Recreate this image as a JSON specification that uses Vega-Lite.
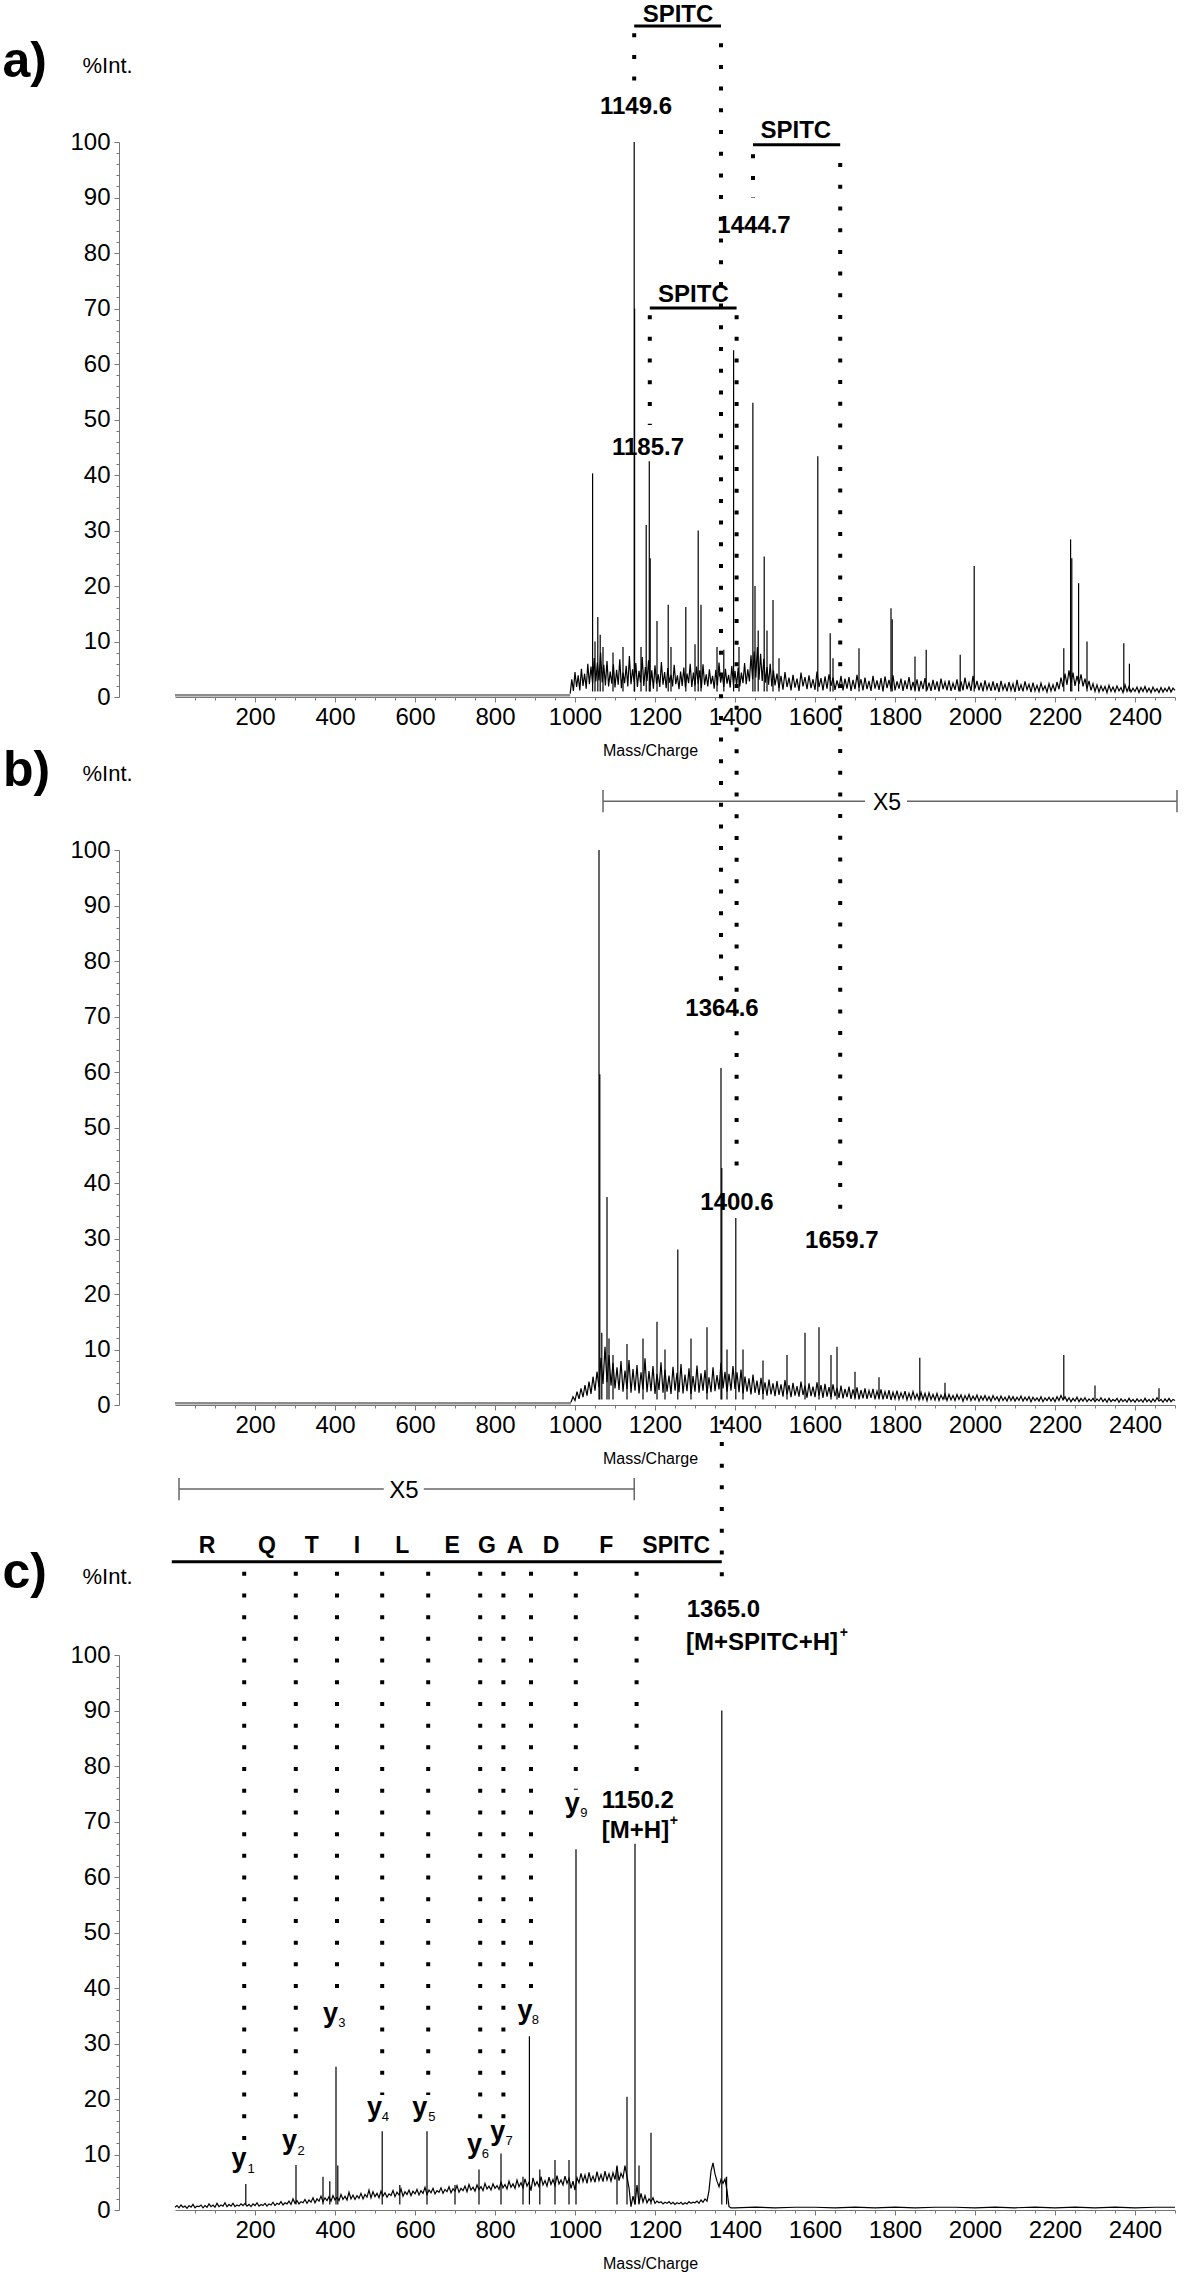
{
"$schema":"https://vega.github.io/schema/vega-lite/v6.json",
"width":1200,"height":2274,"autosize":{"type":"none"},"padding":0,
"config":{"view":{"stroke":null},"font":"Liberation Sans","text":{"font":"Liberation Sans"}},
"datasets":{
"a_flat":[{"m":0,"i":0.3},{"m":988,"i":0.3}],
"a_noise":[{"m":988,"i":0.6},{"m":992,"i":3.2},{"m":996,"i":1.1},{"m":1000,"i":4.5},{"m":1004,"i":1.8},{"m":1008,"i":3.9},{"m":1012,"i":1.2},{"m":1016,"i":5.1},{"m":1020,"i":2.0},{"m":1024,"i":4.2},{"m":1028,"i":1.5},{"m":1032,"i":6.0},{"m":1036,"i":2.3},{"m":1040,"i":5.5},{"m":1044,"i":2.4},{"m":1048,"i":7.0},{"m":1052,"i":2.8},{"m":1056,"i":6.2},{"m":1060,"i":3.0},{"m":1064,"i":8.0},{"m":1068,"i":2.6},{"m":1072,"i":5.8},{"m":1076,"i":2.1},{"m":1080,"i":6.5},{"m":1084,"i":1.9},{"m":1088,"i":4.6},{"m":1092,"i":2.4},{"m":1096,"i":5.9},{"m":1100,"i":1.7},{"m":1104,"i":4.9},{"m":1108,"i":2.2},{"m":1112,"i":6.8},{"m":1116,"i":1.6},{"m":1120,"i":4.4},{"m":1124,"i":2.5},{"m":1128,"i":5.6},{"m":1132,"i":1.9},{"m":1136,"i":7.4},{"m":1140,"i":2.3},{"m":1144,"i":5.0},{"m":1148,"i":2.7},{"m":1152,"i":6.1},{"m":1156,"i":1.8},{"m":1160,"i":4.7},{"m":1164,"i":2.6},{"m":1168,"i":7.2},{"m":1172,"i":2.0},{"m":1176,"i":5.4},{"m":1180,"i":2.9},{"m":1184,"i":6.6},{"m":1188,"i":2.1},{"m":1192,"i":4.8},{"m":1196,"i":1.5},{"m":1200,"i":5.7},{"m":1204,"i":2.4},{"m":1208,"i":4.1},{"m":1212,"i":1.8},{"m":1216,"i":6.3},{"m":1220,"i":2.2},{"m":1224,"i":4.5},{"m":1228,"i":1.6},{"m":1232,"i":5.2},{"m":1236,"i":2.6},{"m":1240,"i":4.0},{"m":1244,"i":1.9},{"m":1248,"i":5.8},{"m":1252,"i":2.3},{"m":1256,"i":3.9},{"m":1260,"i":1.4},{"m":1264,"i":4.6},{"m":1268,"i":2.0},{"m":1272,"i":5.3},{"m":1276,"i":1.7},{"m":1280,"i":4.2},{"m":1284,"i":2.5},{"m":1288,"i":6.0},{"m":1292,"i":1.8},{"m":1296,"i":4.4},{"m":1300,"i":2.1},{"m":1304,"i":5.5},{"m":1308,"i":2.4},{"m":1312,"i":4.8},{"m":1316,"i":1.6},{"m":1320,"i":5.9},{"m":1324,"i":2.2},{"m":1328,"i":4.1},{"m":1332,"i":1.9},{"m":1336,"i":5.0},{"m":1340,"i":2.3},{"m":1344,"i":3.8},{"m":1348,"i":1.5},{"m":1352,"i":4.9},{"m":1356,"i":2.1},{"m":1360,"i":6.2},{"m":1364,"i":2.6},{"m":1368,"i":4.3},{"m":1372,"i":1.8},{"m":1376,"i":5.1},{"m":1380,"i":2.4},{"m":1384,"i":4.0},{"m":1388,"i":1.7},{"m":1392,"i":5.6},{"m":1396,"i":2.2},{"m":1400,"i":4.7},{"m":1404,"i":2.0},{"m":1408,"i":5.3},{"m":1412,"i":1.9},{"m":1416,"i":4.4},{"m":1420,"i":2.5},{"m":1424,"i":6.1},{"m":1428,"i":2.3},{"m":1432,"i":5.0},{"m":1436,"i":2.8},{"m":1440,"i":7.5},{"m":1444,"i":3.2},{"m":1448,"i":8.2},{"m":1452,"i":3.5},{"m":1456,"i":9.0},{"m":1460,"i":3.1},{"m":1464,"i":7.8},{"m":1468,"i":2.9},{"m":1472,"i":6.9},{"m":1476,"i":2.6},{"m":1480,"i":5.4},{"m":1484,"i":2.2},{"m":1488,"i":6.0},{"m":1492,"i":1.9},{"m":1496,"i":4.8},{"m":1500,"i":2.1},{"m":1505,"i":4.2},{"m":1510,"i":1.6},{"m":1515,"i":3.8},{"m":1520,"i":1.3},{"m":1525,"i":4.5},{"m":1530,"i":1.8},{"m":1535,"i":3.5},{"m":1540,"i":1.2},{"m":1545,"i":4.0},{"m":1550,"i":1.7},{"m":1555,"i":3.3},{"m":1560,"i":1.1},{"m":1565,"i":4.4},{"m":1570,"i":1.9},{"m":1575,"i":3.6},{"m":1580,"i":1.4},{"m":1585,"i":3.9},{"m":1590,"i":1.6},{"m":1595,"i":3.2},{"m":1600,"i":1.3},{"m":1605,"i":4.6},{"m":1610,"i":1.8},{"m":1615,"i":3.4},{"m":1620,"i":1.2},{"m":1625,"i":3.7},{"m":1630,"i":1.5},{"m":1635,"i":4.1},{"m":1640,"i":2.0},{"m":1645,"i":3.5},{"m":1650,"i":1.3},{"m":1655,"i":3.0},{"m":1660,"i":1.6},{"m":1665,"i":3.8},{"m":1670,"i":1.2},{"m":1675,"i":3.3},{"m":1680,"i":1.5},{"m":1685,"i":3.6},{"m":1690,"i":1.1},{"m":1695,"i":3.1},{"m":1700,"i":1.4},{"m":1705,"i":4.0},{"m":1710,"i":1.7},{"m":1715,"i":3.2},{"m":1720,"i":1.2},{"m":1725,"i":3.5},{"m":1730,"i":1.4},{"m":1735,"i":2.9},{"m":1740,"i":1.1},{"m":1745,"i":3.8},{"m":1750,"i":1.5},{"m":1755,"i":3.0},{"m":1760,"i":1.3},{"m":1765,"i":3.4},{"m":1770,"i":1.0},{"m":1775,"i":3.7},{"m":1780,"i":1.6},{"m":1785,"i":3.1},{"m":1790,"i":1.4},{"m":1795,"i":3.9},{"m":1800,"i":1.2},{"m":1805,"i":2.8},{"m":1810,"i":1.5},{"m":1815,"i":3.3},{"m":1820,"i":1.1},{"m":1825,"i":3.0},{"m":1830,"i":1.4},{"m":1835,"i":3.6},{"m":1840,"i":1.2},{"m":1845,"i":2.7},{"m":1850,"i":1.3},{"m":1855,"i":3.2},{"m":1860,"i":1.0},{"m":1865,"i":2.9},{"m":1870,"i":1.4},{"m":1875,"i":3.4},{"m":1880,"i":1.2},{"m":1885,"i":2.6},{"m":1890,"i":1.1},{"m":1895,"i":3.1},{"m":1900,"i":1.3},{"m":1905,"i":2.8},{"m":1910,"i":1.0},{"m":1915,"i":3.3},{"m":1920,"i":1.4},{"m":1925,"i":2.7},{"m":1930,"i":1.2},{"m":1935,"i":3.0},{"m":1940,"i":1.1},{"m":1945,"i":2.5},{"m":1950,"i":1.3},{"m":1955,"i":3.2},{"m":1960,"i":1.0},{"m":1965,"i":2.8},{"m":1970,"i":1.2},{"m":1975,"i":3.5},{"m":1980,"i":1.4},{"m":1985,"i":2.6},{"m":1990,"i":1.1},{"m":1995,"i":3.8},{"m":2000,"i":1.5},{"m":2005,"i":2.9},{"m":2010,"i":1.2},{"m":2015,"i":2.6},{"m":2020,"i":1.0},{"m":2025,"i":3.0},{"m":2030,"i":1.3},{"m":2035,"i":2.4},{"m":2040,"i":1.1},{"m":2045,"i":2.8},{"m":2050,"i":1.2},{"m":2055,"i":2.5},{"m":2060,"i":0.9},{"m":2065,"i":2.9},{"m":2070,"i":1.3},{"m":2075,"i":2.3},{"m":2080,"i":1.0},{"m":2085,"i":2.7},{"m":2090,"i":1.2},{"m":2095,"i":2.4},{"m":2100,"i":0.9},{"m":2105,"i":3.1},{"m":2110,"i":1.1},{"m":2115,"i":2.2},{"m":2120,"i":1.0},{"m":2125,"i":2.8},{"m":2130,"i":1.3},{"m":2135,"i":2.3},{"m":2140,"i":0.9},{"m":2145,"i":2.6},{"m":2150,"i":1.1},{"m":2155,"i":2.1},{"m":2160,"i":1.0},{"m":2165,"i":2.5},{"m":2170,"i":1.2},{"m":2175,"i":2.0},{"m":2180,"i":0.9},{"m":2185,"i":2.4},{"m":2190,"i":1.1},{"m":2195,"i":2.2},{"m":2200,"i":1.0},{"m":2205,"i":2.7},{"m":2210,"i":1.4},{"m":2215,"i":3.5},{"m":2220,"i":1.8},{"m":2225,"i":4.2},{"m":2230,"i":2.2},{"m":2235,"i":4.8},{"m":2240,"i":2.5},{"m":2245,"i":4.4},{"m":2250,"i":2.0},{"m":2255,"i":3.8},{"m":2260,"i":2.3},{"m":2265,"i":4.1},{"m":2270,"i":1.9},{"m":2275,"i":3.3},{"m":2280,"i":1.5},{"m":2285,"i":2.9},{"m":2290,"i":1.2},{"m":2295,"i":2.4},{"m":2300,"i":1.0},{"m":2305,"i":2.2},{"m":2310,"i":0.9},{"m":2315,"i":2.0},{"m":2320,"i":1.1},{"m":2325,"i":1.9},{"m":2330,"i":0.8},{"m":2335,"i":2.1},{"m":2340,"i":1.0},{"m":2345,"i":1.8},{"m":2350,"i":0.9},{"m":2355,"i":2.0},{"m":2360,"i":1.1},{"m":2365,"i":1.7},{"m":2370,"i":0.8},{"m":2375,"i":2.2},{"m":2380,"i":1.0},{"m":2385,"i":1.9},{"m":2390,"i":0.9},{"m":2395,"i":1.6},{"m":2400,"i":1.0},{"m":2405,"i":1.8},{"m":2410,"i":0.8},{"m":2415,"i":1.7},{"m":2420,"i":1.0},{"m":2425,"i":1.9},{"m":2430,"i":0.9},{"m":2435,"i":1.6},{"m":2440,"i":0.8},{"m":2445,"i":1.8},{"m":2450,"i":1.0},{"m":2455,"i":1.5},{"m":2460,"i":0.8},{"m":2465,"i":1.7},{"m":2470,"i":0.9},{"m":2475,"i":1.6},{"m":2480,"i":1.0},{"m":2485,"i":1.8},{"m":2490,"i":0.9},{"m":2495,"i":1.6},{"m":2500,"i":1.2}],
"a_pk":[{"m":1044,"i":40.3},{"m":1050,"i":10},{"m":1057,"i":14.4},{"m":1063,"i":11.2},{"m":1070,"i":9},{"m":1095,"i":8},{"m":1120,"i":9},{"m":1148,"i":100},{"m":1149,"i":70},{"m":1165,"i":9},{"m":1178,"i":31},{"m":1185.7,"i":42.5},{"m":1188,"i":25},{"m":1205,"i":13.7},{"m":1233,"i":16.6},{"m":1240,"i":9},{"m":1277,"i":16.2},{"m":1300,"i":9.5},{"m":1308,"i":30},{"m":1315,"i":16.6},{"m":1355,"i":9},{"m":1372,"i":8.5},{"m":1396.5,"i":62.5},{"m":1410,"i":9},{"m":1444.7,"i":53},{"m":1450,"i":20},{"m":1458,"i":12},{"m":1473,"i":25.3},{"m":1480,"i":12},{"m":1495,"i":17.5},{"m":1510,"i":7},{"m":1607,"i":43.4},{"m":1638,"i":11.5},{"m":1645,"i":7},{"m":1710,"i":8.8},{"m":1790,"i":16},{"m":1793,"i":14},{"m":1850,"i":7.3},{"m":1878,"i":8.5},{"m":1963,"i":7.6},{"m":1998,"i":23.6},{"m":2222,"i":8.8},{"m":2239,"i":28.4},{"m":2242,"i":25},{"m":2259,"i":20.5},{"m":2280,"i":10},{"m":2372,"i":9.7},{"m":2386,"i":6}],
"a_dot":[{"m":1148,"i":119.6,"i2":110.5},{"m":1365,"i":117.8,"i2":-52.5},{"m":1445,"i":97.8,"i2":89.9},{"m":1663,"i":96.2,"i2":-95},{"m":1187,"i":68.8,"i2":49},{"m":1404,"i":68.8,"i2":-87.6}],
"a_bar":[{"m":1148,"m2":1365,"i":120.9},{"m":1445,"m2":1663,"i":99.5},{"m":1187,"m2":1404,"i":70.1}],
"a_lab":[{"m":1257.5,"i":121.6,"t":"SPITC"},{"m":1152.5,"i":105,"t":"1149.6"},{"m":1552,"i":100.7,"t":"SPITC"},{"m":1447.5,"i":83.6,"t":"1444.7"},{"m":1296,"i":71.2,"t":"SPITC"},{"m":1182.5,"i":43.6,"t":"1185.7"}],
"a_panel":[{"m":-320,"i":111.7,"t":"a)"}],
"b_flat":[{"m":0,"i":0.3},{"m":990,"i":0.3}],
"b_noise":[{"m":990,"i":0.5},{"m":995,"i":1.5},{"m":1000,"i":0.8},{"m":1005,"i":2.4},{"m":1010,"i":1.1},{"m":1015,"i":3.0},{"m":1020,"i":1.4},{"m":1025,"i":3.6},{"m":1030,"i":1.7},{"m":1035,"i":4.2},{"m":1040,"i":2.0},{"m":1045,"i":5.1},{"m":1050,"i":2.6},{"m":1055,"i":6.0},{"m":1060,"i":3.2},{"m":1065,"i":8.5},{"m":1070,"i":3.8},{"m":1075,"i":10.5},{"m":1080,"i":4.1},{"m":1085,"i":9.0},{"m":1090,"i":3.5},{"m":1095,"i":7.6},{"m":1100,"i":3.0},{"m":1105,"i":6.8},{"m":1110,"i":2.7},{"m":1115,"i":7.9},{"m":1120,"i":2.4},{"m":1125,"i":6.2},{"m":1130,"i":2.9},{"m":1135,"i":8.1},{"m":1140,"i":2.2},{"m":1145,"i":6.5},{"m":1150,"i":2.6},{"m":1155,"i":7.2},{"m":1160,"i":2.1},{"m":1165,"i":5.9},{"m":1170,"i":2.8},{"m":1175,"i":8.4},{"m":1180,"i":2.3},{"m":1185,"i":6.1},{"m":1190,"i":2.5},{"m":1195,"i":7.0},{"m":1200,"i":2.0},{"m":1205,"i":5.6},{"m":1210,"i":2.7},{"m":1215,"i":7.7},{"m":1220,"i":2.2},{"m":1225,"i":6.4},{"m":1230,"i":2.4},{"m":1235,"i":5.3},{"m":1240,"i":2.0},{"m":1245,"i":6.9},{"m":1250,"i":2.6},{"m":1255,"i":5.8},{"m":1260,"i":2.3},{"m":1265,"i":7.4},{"m":1270,"i":2.1},{"m":1275,"i":5.5},{"m":1280,"i":2.5},{"m":1285,"i":6.6},{"m":1290,"i":2.0},{"m":1295,"i":5.2},{"m":1300,"i":2.4},{"m":1305,"i":7.1},{"m":1310,"i":2.2},{"m":1315,"i":5.7},{"m":1320,"i":2.6},{"m":1325,"i":6.3},{"m":1330,"i":2.1},{"m":1335,"i":5.0},{"m":1340,"i":2.3},{"m":1345,"i":6.8},{"m":1350,"i":2.5},{"m":1355,"i":5.4},{"m":1360,"i":2.8},{"m":1365,"i":7.6},{"m":1370,"i":3.0},{"m":1375,"i":6.0},{"m":1380,"i":2.4},{"m":1385,"i":5.6},{"m":1390,"i":2.6},{"m":1395,"i":7.0},{"m":1400,"i":2.9},{"m":1405,"i":5.9},{"m":1410,"i":2.3},{"m":1415,"i":6.4},{"m":1420,"i":2.1},{"m":1425,"i":5.1},{"m":1430,"i":2.4},{"m":1435,"i":4.8},{"m":1440,"i":1.9},{"m":1445,"i":5.5},{"m":1450,"i":2.2},{"m":1455,"i":4.4},{"m":1460,"i":1.8},{"m":1465,"i":4.9},{"m":1470,"i":2.0},{"m":1475,"i":4.1},{"m":1480,"i":1.7},{"m":1485,"i":4.6},{"m":1490,"i":1.9},{"m":1495,"i":3.9},{"m":1500,"i":1.6},{"m":1505,"i":4.3},{"m":1510,"i":1.8},{"m":1515,"i":3.7},{"m":1520,"i":1.5},{"m":1525,"i":4.5},{"m":1530,"i":1.9},{"m":1535,"i":3.6},{"m":1540,"i":1.4},{"m":1545,"i":4.0},{"m":1550,"i":1.7},{"m":1555,"i":3.4},{"m":1560,"i":1.5},{"m":1565,"i":4.2},{"m":1570,"i":1.8},{"m":1575,"i":3.5},{"m":1580,"i":1.3},{"m":1585,"i":3.9},{"m":1590,"i":1.6},{"m":1595,"i":3.3},{"m":1600,"i":1.4},{"m":1605,"i":4.1},{"m":1610,"i":1.7},{"m":1615,"i":3.6},{"m":1620,"i":1.3},{"m":1625,"i":3.8},{"m":1630,"i":1.5},{"m":1635,"i":3.2},{"m":1640,"i":1.4},{"m":1645,"i":3.7},{"m":1650,"i":1.6},{"m":1655,"i":3.1},{"m":1660,"i":1.3},{"m":1665,"i":3.5},{"m":1670,"i":1.2},{"m":1675,"i":2.9},{"m":1680,"i":1.4},{"m":1685,"i":3.3},{"m":1690,"i":1.1},{"m":1695,"i":2.8},{"m":1700,"i":1.3},{"m":1705,"i":3.2},{"m":1710,"i":1.0},{"m":1715,"i":2.7},{"m":1720,"i":1.2},{"m":1725,"i":3.0},{"m":1730,"i":1.1},{"m":1735,"i":2.6},{"m":1740,"i":1.3},{"m":1745,"i":2.9},{"m":1750,"i":1.0},{"m":1755,"i":2.5},{"m":1760,"i":1.2},{"m":1765,"i":2.8},{"m":1770,"i":1.0},{"m":1775,"i":2.4},{"m":1780,"i":1.1},{"m":1785,"i":2.7},{"m":1790,"i":0.9},{"m":1795,"i":2.3},{"m":1800,"i":1.1},{"m":1805,"i":2.6},{"m":1810,"i":1.0},{"m":1815,"i":2.2},{"m":1820,"i":1.2},{"m":1825,"i":2.5},{"m":1830,"i":0.9},{"m":1835,"i":2.1},{"m":1840,"i":1.0},{"m":1845,"i":2.4},{"m":1850,"i":1.1},{"m":1855,"i":2.0},{"m":1860,"i":0.9},{"m":1865,"i":2.3},{"m":1870,"i":1.0},{"m":1875,"i":2.1},{"m":1880,"i":0.8},{"m":1885,"i":2.2},{"m":1890,"i":1.0},{"m":1895,"i":1.9},{"m":1900,"i":0.9},{"m":1905,"i":2.1},{"m":1910,"i":0.8},{"m":1915,"i":1.8},{"m":1920,"i":1.0},{"m":1925,"i":2.0},{"m":1930,"i":0.8},{"m":1935,"i":1.9},{"m":1940,"i":0.9},{"m":1945,"i":1.7},{"m":1950,"i":0.8},{"m":1955,"i":1.9},{"m":1960,"i":1.0},{"m":1965,"i":1.8},{"m":1970,"i":0.7},{"m":1975,"i":1.7},{"m":1980,"i":0.9},{"m":1985,"i":1.9},{"m":1990,"i":0.8},{"m":1995,"i":1.6},{"m":2000,"i":0.9},{"m":2005,"i":1.8},{"m":2010,"i":0.7},{"m":2015,"i":1.6},{"m":2020,"i":0.9},{"m":2025,"i":1.7},{"m":2030,"i":0.8},{"m":2035,"i":1.5},{"m":2040,"i":0.7},{"m":2045,"i":1.7},{"m":2050,"i":0.9},{"m":2055,"i":1.5},{"m":2060,"i":0.7},{"m":2065,"i":1.6},{"m":2070,"i":0.8},{"m":2075,"i":1.4},{"m":2080,"i":0.7},{"m":2085,"i":1.6},{"m":2090,"i":0.8},{"m":2095,"i":1.5},{"m":2100,"i":0.7},{"m":2105,"i":1.4},{"m":2110,"i":0.8},{"m":2115,"i":1.6},{"m":2120,"i":0.7},{"m":2125,"i":1.4},{"m":2130,"i":0.8},{"m":2135,"i":1.5},{"m":2140,"i":0.6},{"m":2145,"i":1.4},{"m":2150,"i":0.8},{"m":2155,"i":1.3},{"m":2160,"i":0.7},{"m":2165,"i":1.5},{"m":2170,"i":0.6},{"m":2175,"i":1.3},{"m":2180,"i":0.8},{"m":2185,"i":1.4},{"m":2190,"i":0.7},{"m":2195,"i":1.3},{"m":2200,"i":0.6},{"m":2205,"i":1.5},{"m":2210,"i":0.8},{"m":2215,"i":1.7},{"m":2220,"i":0.9},{"m":2225,"i":1.5},{"m":2230,"i":0.7},{"m":2235,"i":1.3},{"m":2240,"i":0.6},{"m":2245,"i":1.2},{"m":2250,"i":0.7},{"m":2255,"i":1.4},{"m":2260,"i":0.6},{"m":2265,"i":1.2},{"m":2270,"i":0.7},{"m":2275,"i":1.3},{"m":2280,"i":0.6},{"m":2285,"i":1.1},{"m":2290,"i":0.7},{"m":2295,"i":1.2},{"m":2300,"i":0.6},{"m":2305,"i":1.1},{"m":2310,"i":0.7},{"m":2315,"i":1.3},{"m":2320,"i":0.6},{"m":2325,"i":1.1},{"m":2330,"i":0.5},{"m":2335,"i":1.2},{"m":2340,"i":0.6},{"m":2345,"i":1.0},{"m":2350,"i":0.7},{"m":2355,"i":1.2},{"m":2360,"i":0.5},{"m":2365,"i":1.1},{"m":2370,"i":0.6},{"m":2375,"i":1.0},{"m":2380,"i":0.5},{"m":2385,"i":1.2},{"m":2390,"i":0.6},{"m":2395,"i":1.0},{"m":2400,"i":0.5},{"m":2405,"i":1.1},{"m":2410,"i":0.6},{"m":2415,"i":1.0},{"m":2420,"i":0.5},{"m":2425,"i":1.2},{"m":2430,"i":0.6},{"m":2435,"i":1.0},{"m":2440,"i":0.5},{"m":2445,"i":1.1},{"m":2450,"i":0.6},{"m":2455,"i":1.3},{"m":2460,"i":0.7},{"m":2465,"i":1.0},{"m":2470,"i":0.5},{"m":2475,"i":1.1},{"m":2480,"i":0.6},{"m":2485,"i":1.2},{"m":2490,"i":0.6},{"m":2495,"i":1.0},{"m":2500,"i":0.8}],
"b_pk":[{"m":1060,"i":100},{"m":1062,"i":59.6},{"m":1067,"i":13},{"m":1080,"i":37.5},{"m":1085,"i":12},{"m":1095,"i":9},{"m":1130,"i":11},{"m":1170,"i":12},{"m":1205,"i":15},{"m":1225,"i":10},{"m":1257,"i":28},{"m":1290,"i":12},{"m":1330,"i":14},{"m":1365,"i":60.7},{"m":1367,"i":42.7},{"m":1380,"i":10},{"m":1402,"i":33.7},{"m":1420,"i":10},{"m":1470,"i":8},{"m":1530,"i":9},{"m":1575,"i":13},{"m":1610,"i":14},{"m":1640,"i":9},{"m":1655,"i":10.5},{"m":1700,"i":6},{"m":1760,"i":5},{"m":1862,"i":8.5},{"m":1925,"i":4},{"m":2222,"i":9},{"m":2300,"i":3.5},{"m":2460,"i":3}],
"b_lab":[{"m":1367.5,"i":70.1,"t":"1364.6"},{"m":1405,"i":35.1,"t":"1400.6"},{"m":1667,"i":28.3,"t":"1659.7"}],
"b_panel":[{"m":-312,"i":111.5,"t":"b)"}],
"b_x5":[{"m":1780,"i":107.2,"t":"X5"}],
"b_thin":[{"m":1070,"m2":1725,"i":108.8,"i2":108.8},{"m":1830,"m2":2505,"i":108.8,"i2":108.8},{"m":1070,"m2":1070,"i":110.8,"i2":106.8},{"m":2505,"m2":2505,"i":110.8,"i2":106.8}],
"c_noise":[{"m":0,"i":0.5},{"m":5,"i":0.8},{"m":10,"i":0.4},{"m":15,"i":0.9},{"m":20,"i":0.5},{"m":25,"i":0.7},{"m":30,"i":0.3},{"m":35,"i":0.8},{"m":40,"i":0.5},{"m":45,"i":1.0},{"m":50,"i":0.4},{"m":55,"i":0.7},{"m":60,"i":0.6},{"m":65,"i":0.9},{"m":70,"i":0.4},{"m":75,"i":0.8},{"m":80,"i":0.5},{"m":85,"i":1.1},{"m":90,"i":0.6},{"m":95,"i":0.9},{"m":100,"i":0.5},{"m":105,"i":1.2},{"m":110,"i":0.6},{"m":115,"i":0.9},{"m":120,"i":0.7},{"m":125,"i":1.3},{"m":130,"i":0.6},{"m":135,"i":1.0},{"m":140,"i":0.7},{"m":145,"i":1.2},{"m":150,"i":0.6},{"m":155,"i":0.9},{"m":160,"i":0.7},{"m":165,"i":1.1},{"m":170,"i":0.8},{"m":175,"i":1.2},{"m":180,"i":0.7},{"m":185,"i":1.0},{"m":190,"i":0.6},{"m":195,"i":1.1},{"m":200,"i":0.8},{"m":205,"i":1.3},{"m":210,"i":0.7},{"m":215,"i":1.0},{"m":220,"i":0.8},{"m":225,"i":1.2},{"m":230,"i":0.7},{"m":235,"i":1.1},{"m":240,"i":0.9},{"m":245,"i":1.4},{"m":250,"i":0.8},{"m":255,"i":1.2},{"m":260,"i":1.0},{"m":265,"i":1.5},{"m":270,"i":0.9},{"m":275,"i":1.3},{"m":280,"i":1.1},{"m":285,"i":1.6},{"m":290,"i":1.0},{"m":295,"i":2.0},{"m":300,"i":1.2},{"m":305,"i":1.7},{"m":310,"i":1.1},{"m":315,"i":1.5},{"m":320,"i":1.3},{"m":325,"i":1.9},{"m":330,"i":1.2},{"m":335,"i":1.8},{"m":340,"i":1.4},{"m":345,"i":2.2},{"m":350,"i":1.3},{"m":355,"i":2.0},{"m":360,"i":1.6},{"m":365,"i":2.5},{"m":370,"i":1.5},{"m":375,"i":2.2},{"m":380,"i":1.7},{"m":385,"i":2.4},{"m":390,"i":1.6},{"m":395,"i":2.6},{"m":400,"i":1.8},{"m":405,"i":2.3},{"m":410,"i":1.7},{"m":415,"i":2.8},{"m":420,"i":1.9},{"m":425,"i":2.5},{"m":430,"i":1.8},{"m":435,"i":3.2},{"m":440,"i":2.0},{"m":445,"i":2.7},{"m":450,"i":1.9},{"m":455,"i":2.6},{"m":460,"i":2.1},{"m":465,"i":3.0},{"m":470,"i":2.0},{"m":475,"i":2.8},{"m":480,"i":2.3},{"m":485,"i":3.6},{"m":490,"i":2.2},{"m":495,"i":3.3},{"m":500,"i":2.4},{"m":505,"i":3.0},{"m":510,"i":2.2},{"m":515,"i":3.4},{"m":520,"i":2.5},{"m":525,"i":3.1},{"m":530,"i":2.3},{"m":535,"i":2.9},{"m":540,"i":2.6},{"m":545,"i":3.5},{"m":550,"i":2.4},{"m":555,"i":3.2},{"m":560,"i":2.7},{"m":565,"i":3.8},{"m":570,"i":2.5},{"m":575,"i":3.3},{"m":580,"i":2.8},{"m":585,"i":3.6},{"m":590,"i":2.6},{"m":595,"i":3.4},{"m":600,"i":2.9},{"m":605,"i":3.7},{"m":610,"i":2.7},{"m":615,"i":3.5},{"m":620,"i":3.0},{"m":625,"i":4.1},{"m":630,"i":2.8},{"m":635,"i":3.6},{"m":640,"i":3.1},{"m":645,"i":3.9},{"m":650,"i":2.9},{"m":655,"i":3.5},{"m":660,"i":3.2},{"m":665,"i":4.0},{"m":670,"i":3.0},{"m":675,"i":3.7},{"m":680,"i":3.3},{"m":685,"i":4.2},{"m":690,"i":3.1},{"m":695,"i":3.8},{"m":700,"i":3.4},{"m":705,"i":4.4},{"m":710,"i":3.2},{"m":715,"i":3.9},{"m":720,"i":3.5},{"m":725,"i":4.3},{"m":730,"i":3.3},{"m":735,"i":4.6},{"m":740,"i":3.6},{"m":745,"i":4.1},{"m":750,"i":3.4},{"m":755,"i":4.5},{"m":760,"i":3.7},{"m":765,"i":4.2},{"m":770,"i":3.5},{"m":775,"i":4.8},{"m":780,"i":3.8},{"m":785,"i":4.3},{"m":790,"i":3.6},{"m":795,"i":4.7},{"m":800,"i":3.9},{"m":805,"i":4.4},{"m":810,"i":3.7},{"m":815,"i":5.0},{"m":820,"i":4.0},{"m":825,"i":4.6},{"m":830,"i":3.8},{"m":835,"i":5.2},{"m":840,"i":4.1},{"m":845,"i":4.7},{"m":850,"i":3.9},{"m":855,"i":5.4},{"m":860,"i":4.2},{"m":865,"i":4.9},{"m":870,"i":4.0},{"m":875,"i":5.6},{"m":880,"i":4.3},{"m":885,"i":5.0},{"m":890,"i":3.5},{"m":895,"i":5.8},{"m":900,"i":4.4},{"m":905,"i":5.1},{"m":910,"i":4.2},{"m":915,"i":6.0},{"m":920,"i":4.5},{"m":925,"i":5.3},{"m":930,"i":4.3},{"m":935,"i":5.9},{"m":940,"i":4.6},{"m":945,"i":5.5},{"m":950,"i":4.4},{"m":955,"i":6.2},{"m":960,"i":4.7},{"m":965,"i":5.4},{"m":970,"i":4.5},{"m":975,"i":6.1},{"m":980,"i":4.8},{"m":985,"i":5.7},{"m":990,"i":3.9},{"m":995,"i":5.2},{"m":1000,"i":3.6},{"m":1005,"i":5.8},{"m":1010,"i":4.9},{"m":1015,"i":6.6},{"m":1020,"i":5.1},{"m":1025,"i":6.3},{"m":1030,"i":4.8},{"m":1035,"i":6.8},{"m":1040,"i":5.2},{"m":1045,"i":6.1},{"m":1050,"i":5.0},{"m":1055,"i":6.9},{"m":1060,"i":5.3},{"m":1065,"i":6.4},{"m":1070,"i":5.1},{"m":1075,"i":7.0},{"m":1080,"i":5.4},{"m":1085,"i":6.5},{"m":1090,"i":5.2},{"m":1095,"i":6.7},{"m":1100,"i":5.5},{"m":1105,"i":7.8},{"m":1110,"i":5.3},{"m":1115,"i":6.6},{"m":1120,"i":5.8},{"m":1125,"i":8.0},{"m":1130,"i":6.0},{"m":1135,"i":4.0},{"m":1140,"i":0.6},{"m":1145,"i":2.5},{"m":1150,"i":1.0},{"m":1155,"i":4.5},{"m":1160,"i":1.2},{"m":1165,"i":3.0},{"m":1170,"i":1.4},{"m":1175,"i":2.6},{"m":1180,"i":1.3},{"m":1185,"i":2.0},{"m":1190,"i":1.5},{"m":1195,"i":2.2},{"m":1200,"i":1.2},{"m":1205,"i":1.6},{"m":1210,"i":1.3},{"m":1215,"i":1.5},{"m":1220,"i":1.1},{"m":1225,"i":1.4},{"m":1230,"i":1.2},{"m":1235,"i":1.5},{"m":1240,"i":1.1},{"m":1245,"i":1.4},{"m":1250,"i":1.0},{"m":1255,"i":1.3},{"m":1260,"i":1.1},{"m":1265,"i":1.4},{"m":1270,"i":1.0},{"m":1275,"i":1.3},{"m":1280,"i":1.1},{"m":1285,"i":1.5},{"m":1290,"i":1.2},{"m":1295,"i":1.4},{"m":1300,"i":1.3},{"m":1305,"i":1.6},{"m":1310,"i":1.2},{"m":1315,"i":1.8},{"m":1320,"i":1.4},{"m":1325,"i":2.0},{"m":1330,"i":1.6},{"m":1335,"i":3.5},{"m":1340,"i":7.0},{"m":1345,"i":8.5},{"m":1350,"i":6.5},{"m":1355,"i":5.2},{"m":1360,"i":4.2},{"m":1365,"i":5.5},{"m":1370,"i":4.8},{"m":1375,"i":5.6},{"m":1380,"i":3.5},{"m":1385,"i":0.6},{"m":1390,"i":0.4},{"m":1400,"i":0.4},{"m":1450,"i":0.5},{"m":1500,"i":0.4},{"m":1550,"i":0.5},{"m":1600,"i":0.5},{"m":1650,"i":0.4},{"m":1700,"i":0.5},{"m":1750,"i":0.4},{"m":1800,"i":0.5},{"m":1850,"i":0.4},{"m":1900,"i":0.5},{"m":1950,"i":0.5},{"m":2000,"i":0.4},{"m":2050,"i":0.5},{"m":2100,"i":0.4},{"m":2150,"i":0.5},{"m":2200,"i":0.4},{"m":2250,"i":0.5},{"m":2300,"i":0.4},{"m":2350,"i":0.5},{"m":2400,"i":0.4},{"m":2450,"i":0.5},{"m":2500,"i":0.5}],
"c_pk":[{"m":177,"i":4.7},{"m":302.5,"i":8.1},{"m":370,"i":6},{"m":387,"i":5.2},{"m":402.5,"i":25.8},{"m":407,"i":8},{"m":518,"i":14.2},{"m":562,"i":4.5},{"m":630,"i":14.2},{"m":700,"i":4.5},{"m":760,"i":7.3},{"m":815,"i":10.2},{"m":870,"i":6},{"m":886,"i":31.3},{"m":912,"i":7.3},{"m":950,"i":9},{"m":985,"i":9},{"m":1002.5,"i":65},{"m":1105,"i":8},{"m":1130,"i":20.4},{"m":1150,"i":66},{"m":1160,"i":8},{"m":1190,"i":13.9},{"m":1367,"i":90},{"m":1379,"i":6}],
"c_dot":[{"m":173,"i":115,"i2":11.7},{"m":302,"i":115,"i2":15},{"m":405,"i":115,"i2":37.5},{"m":518,"i":115,"i2":20.7},{"m":633,"i":115,"i2":20.7},{"m":763,"i":115,"i2":14.1},{"m":821,"i":115,"i2":16.4},{"m":890,"i":115,"i2":38.2},{"m":1002,"i":115,"i2":75.7},{"m":1154,"i":115,"i2":77.5},{"m":1367,"i":142.3,"i2":111.2}],
"c_bar":[{"m":-8,"m2":1367,"i":116.8}],
"c_thin":[{"m":10,"m2":522,"i":129.9,"i2":129.9},{"m":622,"m2":1148,"i":129.9,"i2":129.9},{"m":10,"m2":10,"i":131.9,"i2":127.9},{"m":1148,"m2":1148,"i":131.9,"i2":127.9}],
"c_x5":[{"m":572,"i":128.3,"t":"X5"}],
"c_seq":[{"m":80,"i":118.4,"t":"R"},{"m":230,"i":118.4,"t":"Q"},{"m":342,"i":118.4,"t":"T"},{"m":455,"i":118.4,"t":"I"},{"m":568,"i":118.4,"t":"L"},{"m":693,"i":118.4,"t":"E"},{"m":780,"i":118.4,"t":"G"},{"m":850,"i":118.4,"t":"A"},{"m":940,"i":118.4,"t":"D"},{"m":1078,"i":118.4,"t":"F"},{"m":1253,"i":118.4,"t":"SPITC"}],
"c_lab":[{"m":1371,"i":106.8,"t":"1365.0"},{"m":1157,"i":72.4,"t":"1150.2"}],
"c_labl":[{"m":1277.5,"i":100.9,"t":"[M+SPITC+H]"},{"m":1067,"i":67,"t":"[M+H]"}],
"c_sup":[{"m":1672,"i":103.2,"t":"+"},{"m":1247,"i":69.3,"t":"+"}],
"c_y":[{"m":160,"i":7.7,"t":"y"},{"m":286,"i":11,"t":"y"},{"m":389,"i":33.9,"t":"y"},{"m":499,"i":16.9,"t":"y"},{"m":612,"i":16.9,"t":"y"},{"m":749,"i":10.3,"t":"y"},{"m":807,"i":12.6,"t":"y"},{"m":875,"i":34.4,"t":"y"},{"m":993,"i":71.7,"t":"y"}],
"c_ysub":[{"m":190,"i":6.7,"t":"1"},{"m":315,"i":9.9,"t":"2"},{"m":417,"i":33,"t":"3"},{"m":526,"i":16,"t":"4"},{"m":642,"i":16,"t":"5"},{"m":776,"i":9.4,"t":"6"},{"m":835,"i":11.7,"t":"7"},{"m":901,"i":33.5,"t":"8"},{"m":1022,"i":70.8,"t":"9"}],
"c_panel":[{"m":-320,"i":112.1,"t":"c)"}]
},
"layer":[
{
"encoding":{
"x":{"field":"m","type":"quantitative","scale":{"domain":[0,2500],"range":[175,1175],"nice":false,"zero":false},
 "axis":{"orient":"bottom","offset":-1577,"title":"Mass/Charge","titleX":650,"titleY":58,"titleBaseline":"alphabetic","titleFontSize":16,"titleFontWeight":"normal","titleColor":"#000","values":[50,100,150,200,250,300,350,400,450,500,550,600,650,700,750,800,850,900,950,1000,1050,1100,1150,1200,1250,1300,1350,1400,1450,1500,1550,1600,1650,1700,1750,1800,1850,1900,1950,2000,2050,2100,2150,2200,2250,2300,2350,2400,2450,2500],"format":"d","labelExpr":"datum.value % 200 === 0 && datum.value < 2500 ? datum.label : ''","tickSize":{"condition":{"test":"datum.value % 200 === 0","value":5},"value":3},"labelFontSize":24,"labelColor":"#000","labelPadding":3,"labelOverlap":false,"labelFlush":false,"labelBound":false,"grid":false,"domainColor":"#777","tickColor":"#777"}},
"y":{"field":"i","type":"quantitative","scale":{"domain":[0,100],"range":[697,142],"nice":false,"zero":false},
 "axis":{"orient":"left","offset":-119,"title":"%Int.","titleAngle":0,"titleAlign":"left","titleBaseline":"alphabetic","titleX":-37,"titleY":72,"titleFontSize":22,"titleFontWeight":"normal","titleColor":"#000","values":[0,2,4,6,8,10,12,14,16,18,20,22,24,26,28,30,32,34,36,38,40,42,44,46,48,50,52,54,56,58,60,62,64,66,68,70,72,74,76,78,80,82,84,86,88,90,92,94,96,98,100],"labelExpr":"datum.value % 10 === 0 ? datum.label : ''","tickSize":{"condition":{"test":"datum.value % 10 === 0","value":5},"value":3},"labelFontSize":24,"labelColor":"#000","labelPadding":4,"labelOverlap":false,"labelBound":false,"grid":false,"domainColor":"#777","tickColor":"#777"}}
},
"layer":[
{"data":{"name":"a_flat"},"mark":{"type":"line","color":"#8c8c8c","strokeWidth":2.5}},
{"data":{"name":"a_noise"},"mark":{"type":"line","color":"#000","strokeWidth":1.2}},
{"data":{"name":"a_pk"},"mark":{"type":"rule","color":"#000","strokeWidth":1.2},"encoding":{"y2":{"datum":1}}},
{"data":{"name":"a_dot"},"mark":{"type":"rule","color":"#000","strokeWidth":4,"strokeDash":[4,17.7],"strokeCap":"butt"},"encoding":{"y2":{"field":"i2"}}},
{"data":{"name":"a_bar"},"mark":{"type":"rule","color":"#000","strokeWidth":3},"encoding":{"x2":{"field":"m2"}}},
{"data":{"name":"a_lab"},"mark":{"type":"text","fontSize":24,"fontWeight":"bold","baseline":"alphabetic","align":"center","color":"#000"},"encoding":{"text":{"field":"t"}}},
{"data":{"name":"a_panel"},"mark":{"type":"text","fontSize":50,"fontWeight":"bold","baseline":"alphabetic","align":"right","color":"#000"},"encoding":{"text":{"field":"t"}}}
]
},
{
"encoding":{
"x":{"field":"m","type":"quantitative","scale":{"domain":[0,2500],"range":[175,1175],"nice":false,"zero":false},
 "axis":{"orient":"bottom","offset":-869,"title":"Mass/Charge","titleX":650,"titleY":58,"titleBaseline":"alphabetic","titleFontSize":16,"titleFontWeight":"normal","titleColor":"#000","values":[50,100,150,200,250,300,350,400,450,500,550,600,650,700,750,800,850,900,950,1000,1050,1100,1150,1200,1250,1300,1350,1400,1450,1500,1550,1600,1650,1700,1750,1800,1850,1900,1950,2000,2050,2100,2150,2200,2250,2300,2350,2400,2450,2500],"format":"d","labelExpr":"datum.value % 200 === 0 && datum.value < 2500 ? datum.label : ''","tickSize":{"condition":{"test":"datum.value % 200 === 0","value":5},"value":3},"labelFontSize":24,"labelColor":"#000","labelPadding":3,"labelOverlap":false,"labelFlush":false,"labelBound":false,"grid":false,"domainColor":"#777","tickColor":"#777"}},
"y":{"field":"i","type":"quantitative","scale":{"domain":[0,100],"range":[1405,850],"nice":false,"zero":false},
 "axis":{"orient":"left","offset":-119,"title":"%Int.","titleAngle":0,"titleAlign":"left","titleBaseline":"alphabetic","titleX":-37,"titleY":780,"titleFontSize":22,"titleFontWeight":"normal","titleColor":"#000","values":[0,2,4,6,8,10,12,14,16,18,20,22,24,26,28,30,32,34,36,38,40,42,44,46,48,50,52,54,56,58,60,62,64,66,68,70,72,74,76,78,80,82,84,86,88,90,92,94,96,98,100],"labelExpr":"datum.value % 10 === 0 ? datum.label : ''","tickSize":{"condition":{"test":"datum.value % 10 === 0","value":5},"value":3},"labelFontSize":24,"labelColor":"#000","labelPadding":4,"labelOverlap":false,"labelBound":false,"grid":false,"domainColor":"#777","tickColor":"#777"}}
},
"layer":[
{"data":{"name":"b_flat"},"mark":{"type":"line","color":"#8c8c8c","strokeWidth":2.5}},
{"data":{"name":"b_noise"},"mark":{"type":"line","color":"#000","strokeWidth":1.2}},
{"data":{"name":"b_pk"},"mark":{"type":"rule","color":"#000","strokeWidth":1.2},"encoding":{"y2":{"datum":1}}},
{"data":{"name":"b_thin"},"mark":{"type":"rule","color":"#666","strokeWidth":1.5},"encoding":{"x2":{"field":"m2"},"y2":{"field":"i2"}}},
{"data":{"name":"b_x5"},"mark":{"type":"text","fontSize":23,"baseline":"alphabetic","align":"center","color":"#000"},"encoding":{"text":{"field":"t"}}},
{"data":{"name":"b_lab"},"mark":{"type":"text","fontSize":24,"fontWeight":"bold","baseline":"alphabetic","align":"center","color":"#000"},"encoding":{"text":{"field":"t"}}},
{"data":{"name":"b_panel"},"mark":{"type":"text","fontSize":50,"fontWeight":"bold","baseline":"alphabetic","align":"right","color":"#000"},"encoding":{"text":{"field":"t"}}}
]
},
{
"encoding":{
"x":{"field":"m","type":"quantitative","scale":{"domain":[0,2500],"range":[175,1175],"nice":false,"zero":false},
 "axis":{"orient":"bottom","offset":-64,"title":"Mass/Charge","titleX":650,"titleY":58,"titleBaseline":"alphabetic","titleFontSize":16,"titleFontWeight":"normal","titleColor":"#000","values":[50,100,150,200,250,300,350,400,450,500,550,600,650,700,750,800,850,900,950,1000,1050,1100,1150,1200,1250,1300,1350,1400,1450,1500,1550,1600,1650,1700,1750,1800,1850,1900,1950,2000,2050,2100,2150,2200,2250,2300,2350,2400,2450,2500],"format":"d","labelExpr":"datum.value % 200 === 0 && datum.value < 2500 ? datum.label : ''","tickSize":{"condition":{"test":"datum.value % 200 === 0","value":5},"value":3},"labelFontSize":24,"labelColor":"#000","labelPadding":3,"labelOverlap":false,"labelFlush":false,"labelBound":false,"grid":false,"domainColor":"#777","tickColor":"#777"}},
"y":{"field":"i","type":"quantitative","scale":{"domain":[0,100],"range":[2210,1655],"nice":false,"zero":false},
 "axis":{"orient":"left","offset":-119,"title":"%Int.","titleAngle":0,"titleAlign":"left","titleBaseline":"alphabetic","titleX":-37,"titleY":1583,"titleFontSize":22,"titleFontWeight":"normal","titleColor":"#000","values":[0,2,4,6,8,10,12,14,16,18,20,22,24,26,28,30,32,34,36,38,40,42,44,46,48,50,52,54,56,58,60,62,64,66,68,70,72,74,76,78,80,82,84,86,88,90,92,94,96,98,100],"labelExpr":"datum.value % 10 === 0 ? datum.label : ''","tickSize":{"condition":{"test":"datum.value % 10 === 0","value":5},"value":3},"labelFontSize":24,"labelColor":"#000","labelPadding":4,"labelOverlap":false,"labelBound":false,"grid":false,"domainColor":"#777","tickColor":"#777"}}
},
"layer":[
{"data":{"name":"c_noise"},"mark":{"type":"line","color":"#000","strokeWidth":1.2}},
{"data":{"name":"c_pk"},"mark":{"type":"rule","color":"#000","strokeWidth":1.2},"encoding":{"y2":{"datum":1}}},
{"data":{"name":"c_dot"},"mark":{"type":"rule","color":"#000","strokeWidth":4,"strokeDash":[4,17.7],"strokeCap":"butt"},"encoding":{"y2":{"field":"i2"}}},
{"data":{"name":"c_bar"},"mark":{"type":"rule","color":"#000","strokeWidth":3},"encoding":{"x2":{"field":"m2"}}},
{"data":{"name":"c_thin"},"mark":{"type":"rule","color":"#666","strokeWidth":1.5},"encoding":{"x2":{"field":"m2"},"y2":{"field":"i2"}}},
{"data":{"name":"c_x5"},"mark":{"type":"text","fontSize":24,"baseline":"alphabetic","align":"center","color":"#000"},"encoding":{"text":{"field":"t"}}},
{"data":{"name":"c_seq"},"mark":{"type":"text","fontSize":23,"fontWeight":"bold","baseline":"alphabetic","align":"center","color":"#000"},"encoding":{"text":{"field":"t"}}},
{"data":{"name":"c_lab"},"mark":{"type":"text","fontSize":24,"fontWeight":"bold","baseline":"alphabetic","align":"center","color":"#000"},"encoding":{"text":{"field":"t"}}},
{"data":{"name":"c_labl"},"mark":{"type":"text","fontSize":24,"fontWeight":"bold","baseline":"alphabetic","align":"left","color":"#000"},"encoding":{"text":{"field":"t"}}},
{"data":{"name":"c_sup"},"mark":{"type":"text","fontSize":14,"fontWeight":"bold","baseline":"alphabetic","align":"center","color":"#000"},"encoding":{"text":{"field":"t"}}},
{"data":{"name":"c_y"},"mark":{"type":"text","fontSize":27,"fontWeight":"bold","baseline":"alphabetic","align":"center","color":"#000"},"encoding":{"text":{"field":"t"}}},
{"data":{"name":"c_ysub"},"mark":{"type":"text","fontSize":13,"baseline":"alphabetic","align":"center","color":"#000"},"encoding":{"text":{"field":"t"}}},
{"data":{"name":"c_panel"},"mark":{"type":"text","fontSize":50,"fontWeight":"bold","baseline":"alphabetic","align":"right","color":"#000"},"encoding":{"text":{"field":"t"}}}
]
}
],
"resolve":{"scale":{"y":"independent"},"axis":{"x":"independent","y":"independent"}}
}
